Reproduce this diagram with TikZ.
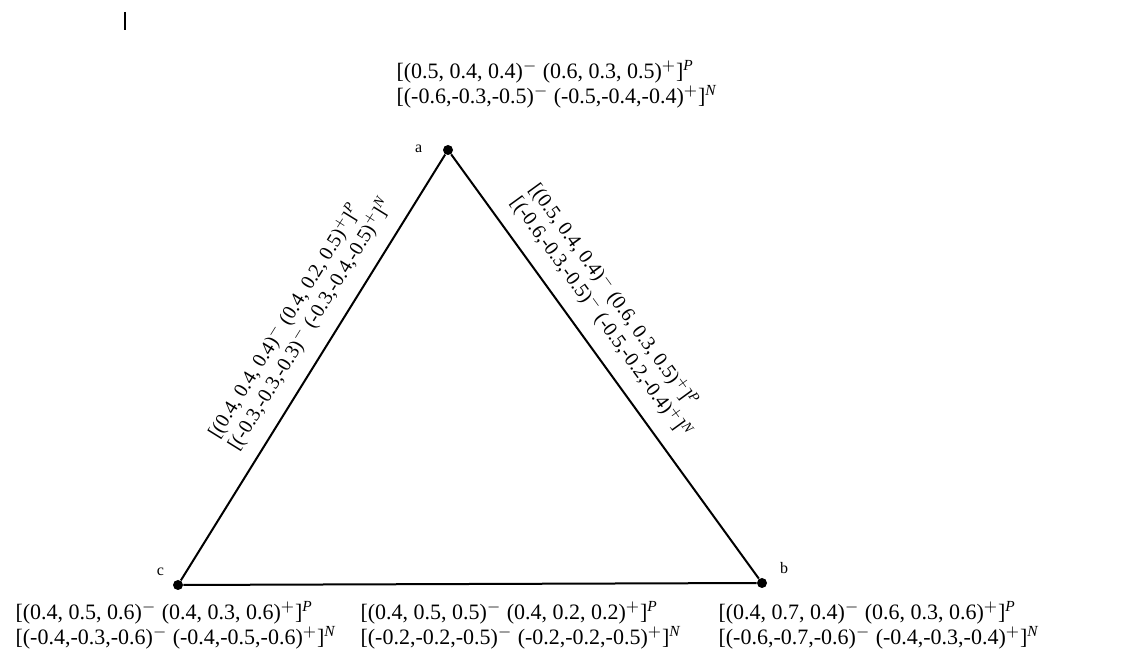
\documentclass[tikz,border=0pt]{standalone}
\usepackage{fontspec}
\setmainfont{Liberation Serif}
\usetikzlibrary{positioning}
\newcommand{\bipol}[3]{[(#1)$^{-}$\ (#2)$^{+}$]\textsuperscript{\textit{#3}}}
\tikzset{vertex/.style={circle, fill=black, inner sep=0pt, minimum size=5pt}}
\tikzset{vname/.style={font=\fontsize{8}{9}\selectfont, inner sep=1pt}}
\tikzset{edge/.style={line width=1pt}}
\tikzset{vallabel/.style={align=left, inner sep=0pt, font=\fontsize{11}{12.5}\selectfont}}
\tikzset{edgelabel/.style={sloped, align=left, inner sep=0pt, font=\fontsize{10}{11.5}\selectfont}}

\begin{document}
\begin{tikzpicture}[x=0.5pt, y=-0.5pt]
\useasboundingbox (0,0) rectangle (1147,651);
% cursor mark at top left
\draw [line width=0.8pt] (125,12) -- (125,30);
% vertices
\node (a) [vertex, label={[vname, label distance=9pt]178:a}] at (448,150) {};
\node (b) [vertex, label={[vname, label distance=6pt]25:b}] at (762,583) {};
\node (c) [vertex, label={[vname, label distance=4pt]150:c}] at (178,585) {};
% edges
\draw [edge] (c) -- node[edgelabel, pos=0.57, above=7pt] {\bipol{0.4, 0.4, 0.4}{0.4, 0.2, 0.5}{P}\\ \bipol{-0.3,-0.3,-0.3}{-0.3,-0.4,-0.5}{N}} (a);
\draw [edge] (a) -- node[edgelabel, pos=0.42, above=7pt] {\bipol{0.5, 0.4, 0.4}{0.6, 0.3, 0.5}{P}\\ \bipol{-0.6,-0.3,-0.5}{-0.5,-0.2,-0.4}{N}} (b);
\draw [edge] (c) -- (b);
% vertex values
\node (vala) [vallabel] at (557,84) {\bipol{0.5, 0.4, 0.4}{0.6, 0.3, 0.5}{P}\\ \bipol{-0.6,-0.3,-0.5}{-0.5,-0.4,-0.4}{N}};
\node (valb) [vallabel] at (879,625) {\bipol{0.4, 0.7, 0.4}{0.6, 0.3, 0.6}{P}\\ \bipol{-0.6,-0.7,-0.6}{-0.4,-0.3,-0.4}{N}};
\node (valc) [vallabel] at (176,625) {\bipol{0.4, 0.5, 0.6}{0.4, 0.3, 0.6}{P}\\ \bipol{-0.4,-0.3,-0.6}{-0.4,-0.5,-0.6}{N}};
\node (valcb) [vallabel] at (521,625) {\bipol{0.4, 0.5, 0.5}{0.4, 0.2, 0.2}{P}\\ \bipol{-0.2,-0.2,-0.5}{-0.2,-0.2,-0.5}{N}};
\end{tikzpicture}
\end{document}
